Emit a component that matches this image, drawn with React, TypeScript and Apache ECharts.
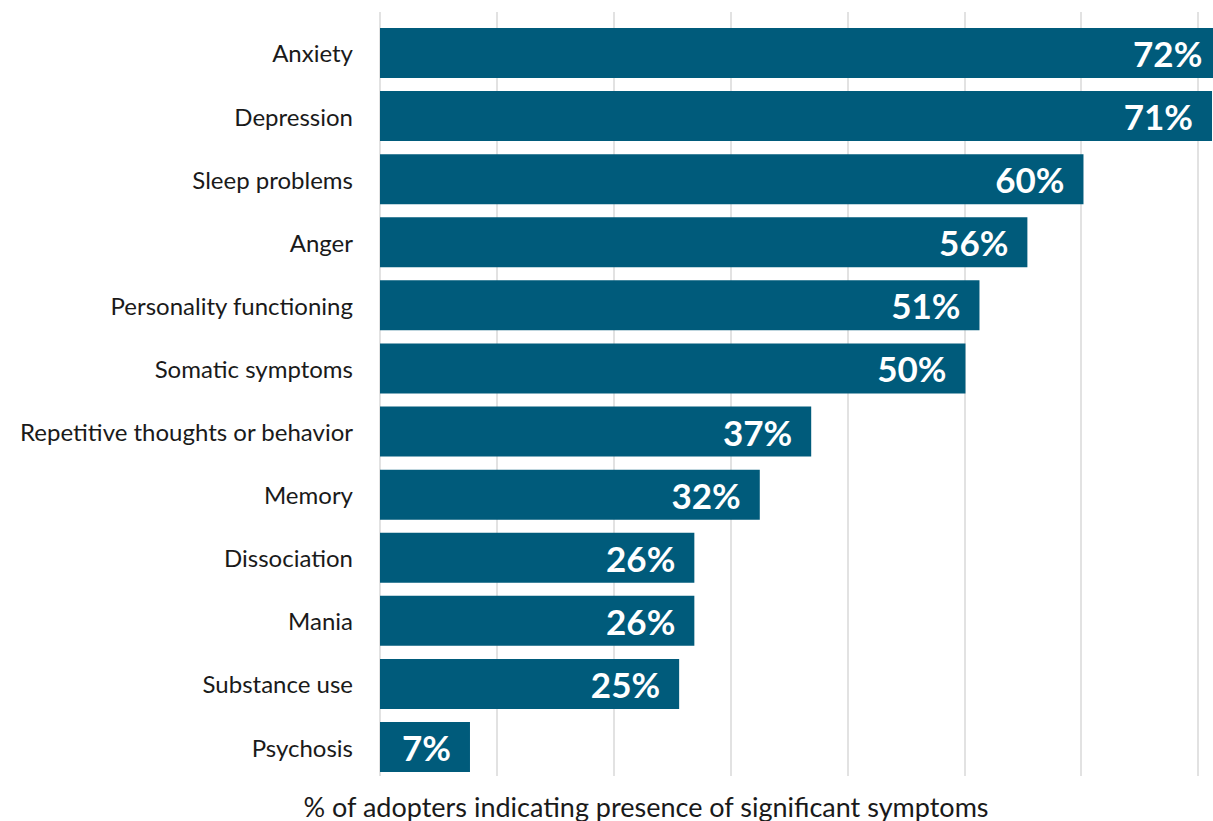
import React, { useEffect, useRef } from "react";
import * as echarts from "echarts";

const categories = [
  "Anxiety",
  "Depression",
  "Sleep problems",
  "Anger",
  "Personality functioning",
  "Somatic symptoms",
  "Repetitive thoughts or behavior",
  "Memory",
  "Dissociation",
  "Mania",
  "Substance use",
  "Psychosis",
];
// bar lengths as drawn (percent)
const values = [72, 71.2, 60.2, 55.4, 51.3, 50.1, 36.9, 32.5, 26.9, 26.9, 25.6, 7.7];
// labels as printed on the bars
const valueLabels = ["72%", "71%", "60%", "56%", "51%", "50%", "37%", "32%", "26%", "26%", "25%", "7%"];
const axisTitle = "% of adopters indicating presence of significant symptoms";

const FONT = "Lato, 'Noto Sans', sans-serif";

export default function App() {
  const ref = useRef<HTMLDivElement>(null);
  useEffect(() => {
    if (!ref.current) return;
    const chart = echarts.init(ref.current, undefined, { renderer: "svg" });
    const unit = (1198 - 380) / 70;
    const width = unit * 80;
    chart.setOption({
      animation: false,
      backgroundColor: "#ffffff",
      textStyle: { fontFamily: FONT },
      grid: [
        { left: 380, width: width, top: 12, bottom: 45 },
        { left: 380, width: width, top: 21.45, height: 757.1 },
      ],
      xAxis: [
        {
          gridIndex: 0,
          type: "value",
          min: 0,
          max: 80,
          interval: 10,
          axisLine: { show: false },
          axisTick: { show: false },
          axisLabel: { show: false },
          splitLine: { show: true, lineStyle: { color: "#d9d9d9", width: 1.5 } },
        },
        {
          gridIndex: 1,
          type: "value",
          min: 0,
          max: 80,
          interval: 10,
          show: false,
        },
      ],
      yAxis: [
        {
          gridIndex: 0,
          type: "value",
          show: false,
        },
        {
          gridIndex: 1,
          type: "category",
          data: categories,
          inverse: true,
          axisLine: { show: false },
          axisTick: { show: false },
          splitLine: { show: false },
          axisLabel: {
            margin: 27,
            fontSize: 24,
            color: "#1a1a1a",
            fontFamily: FONT,
          },
        },
      ],
      series: [
        {
          type: "bar",
          xAxisIndex: 1,
          yAxisIndex: 1,
          data: values,
          barWidth: 50,
          itemStyle: { color: "#005B7B" },
          label: {
            show: true,
            position: "insideRight",
            distance: 19,
            color: "#ffffff",
            fontSize: 35,
            fontWeight: "bold",
            fontFamily: FONT,
            formatter: (p: any) => valueLabels[p.dataIndex],
          },
        },
      ],
      graphic: [
        {
          type: "text",
          x: 646,
          y: 806,
          style: {
            text: axisTitle,
            fontSize: 27,
            fill: "#1a1a1a",
            fontFamily: FONT,
            textAlign: "center",
            textVerticalAlign: "middle",
          },
        },
      ],
    });
    return () => chart.dispose();
  }, []);
  return (
    <div style={{ position: "fixed", left: 0, top: 0, width: 1213, height: 821, overflow: "hidden" }}>
      <div ref={ref} style={{ width: 1330, height: 821 }} />
    </div>
  );
}
